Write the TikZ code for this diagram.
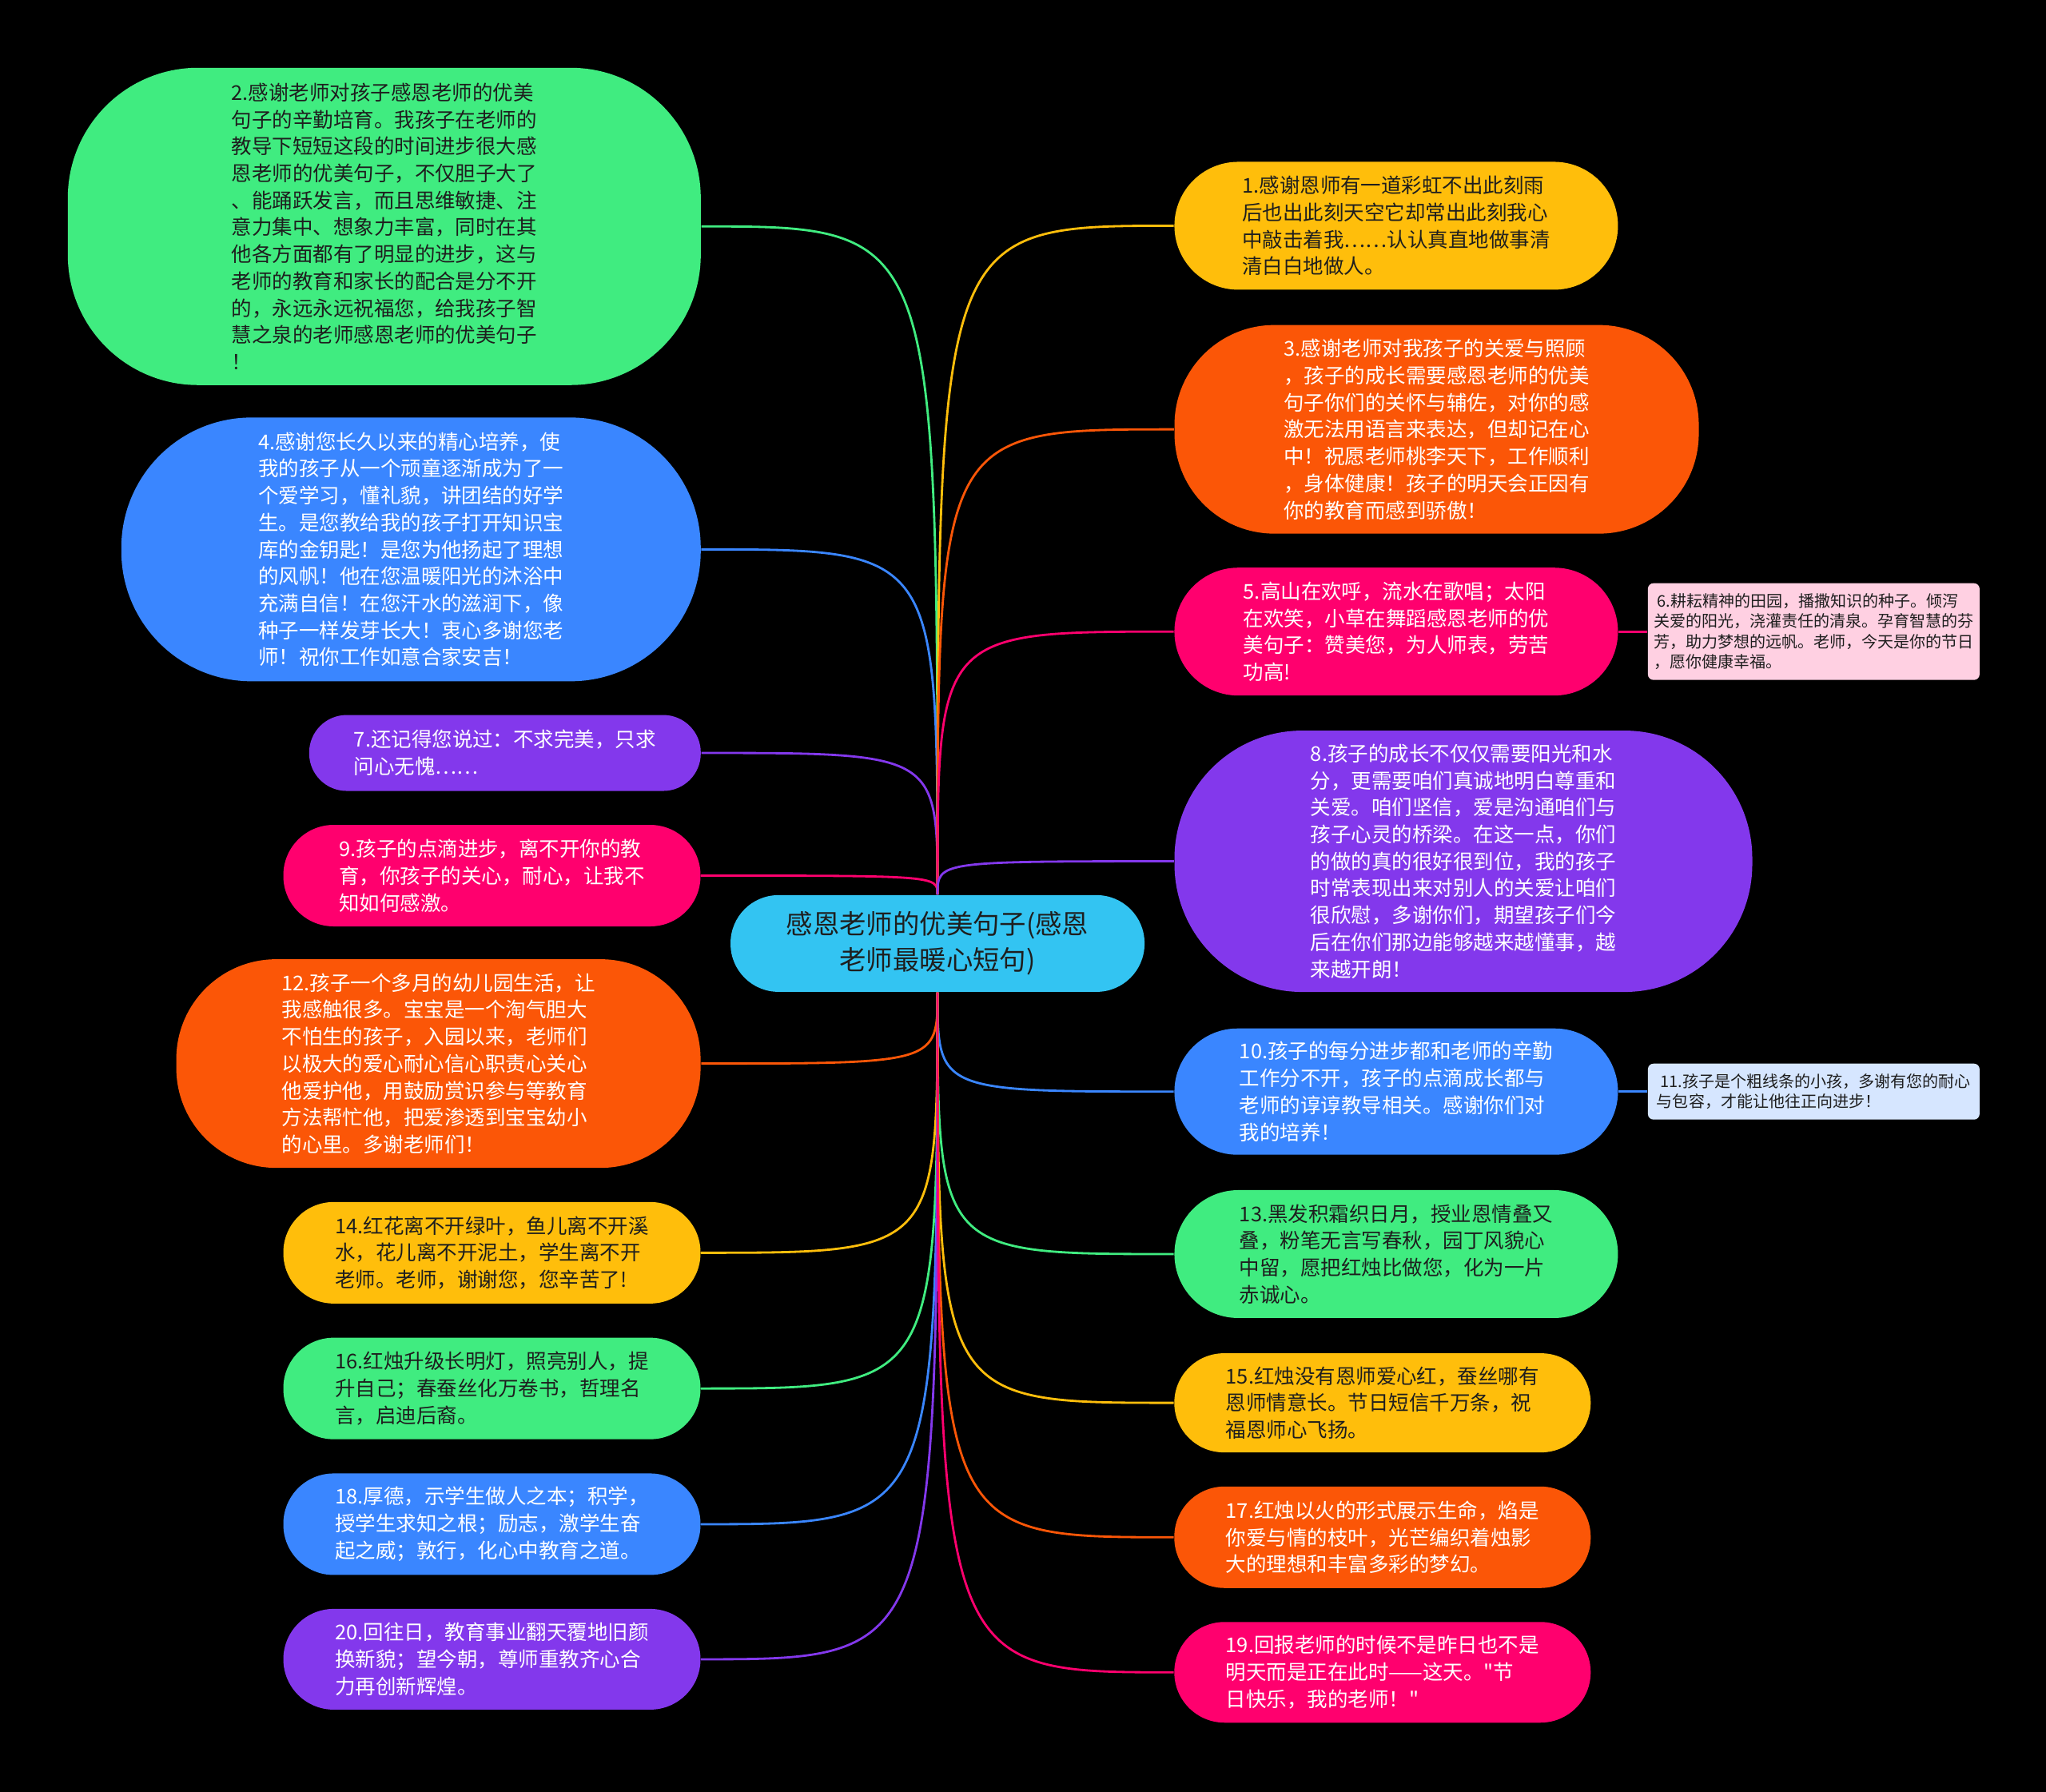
\documentclass[tikz,border=0pt]{standalone}
\usepackage{fontspec}
\setmainfont{Noto Sans CJK SC}[Ligatures=TeXOff]
\usetikzlibrary{calc}

\definecolor{bgblack}{HTML}{000000}
\definecolor{cgreen}{HTML}{40EC80}
\definecolor{cblue}{HTML}{3A86FF}
\definecolor{cpurple}{HTML}{8338EC}
\definecolor{cmagenta}{HTML}{FF006E}
\definecolor{corange}{HTML}{FB5607}
\definecolor{cyellow}{HTML}{FFBE0B}
\definecolor{croot}{HTML}{33C4F2}
\definecolor{cpinkbox}{HTML}{FFD0E2}
\definecolor{cbluebox}{HTML}{D6E6FF}
\definecolor{textdark}{HTML}{1E1E1E}

\newcommand{\leaffont}{\fontsize{7.25}{9.6}\selectfont}
\newcommand{\notefont}{\fontsize{5.7}{7.2}\selectfont}
\newcommand{\rootfont}{\fontsize{9.5}{12.9}\selectfont}

\tikzset{
  leaf/.style={rounded corners=#1, inner sep=0pt, align=left, font=\leaffont, text=white},
  dark/.style={text=textdark},
  note/.style={rounded corners=0.07cm, inner sep=0pt, align=left, font=\notefont, text=textdark},
  branch/.style={draw=#1, line width=0.8pt,
    to path={.. controls (\tikztostart|-\tikztotarget) .. (\tikztotarget)}},
}

\begin{document}
\begin{tikzpicture}[x=0.016327cm, y=-0.016327cm]
  \fill[bgblack] (0,0) rectangle (1568,1373);
  \useasboundingbox (0,0) rectangle (1568,1373);

  % centre
  \node[rounded corners=0.6cm, fill=croot, text=textdark, font=\rootfont, align=center,
        minimum width=5.18cm, minimum height=1.21cm, inner sep=0pt] (root) at (718.5,723)
    {感恩老师的优美句子(感恩\\老师最暖心短句)};

  % left side
  \node[leaf=1.63cm, fill=cgreen, dark, minimum width=7.92cm, minimum height=3.97cm] (n2) at (294.5,173.5)
    {2.感谢老师对孩子感恩老师的优美\\句子的辛勤培育。我孩子在老师的\\教导下短短这段的时间进步很大感\\恩老师的优美句子，不仅胆子大了\\、能踊跃发言，而且思维敏捷、注\\意力集中、想象力丰富，同时在其\\他各方面都有了明显的进步，这与\\老师的教育和家长的配合是分不开\\的，永远永远祝福您，给我孩子智\\慧之泉的老师感恩老师的优美句子\\！};
  \node[leaf=1.63cm, fill=cblue, minimum width=7.25cm, minimum height=3.30cm] (n4) at (315,421)
    {4.感谢您长久以来的精心培养，使\\我的孩子从一个顽童逐渐成为了一\\个爱学习，懂礼貌，讲团结的好学\\生。是您教给我的孩子打开知识宝\\库的金钥匙！是您为他扬起了理想\\的风帆！他在您温暖阳光的沐浴中\\充满自信！在您汗水的滋润下，像\\种子一样发芽长大！衷心多谢您老\\师！祝你工作如意合家安吉！};
  \node[leaf=0.47cm, fill=cpurple, minimum width=4.90cm, minimum height=0.95cm] (n7) at (387,577)
    {7.还记得您说过：不求完美，只求\\问心无愧……};
  \node[leaf=0.63cm, fill=cmagenta, minimum width=5.22cm, minimum height=1.27cm] (n9) at (377,671)
    {9.孩子的点滴进步，离不开你的教\\育，你孩子的关心，耐心，让我不\\知如何感激。};
  \node[leaf=1.25cm, fill=corange, minimum width=6.56cm, minimum height=2.61cm] (n12) at (336,815)
    {12.孩子一个多月的幼儿园生活，让\\我感触很多。宝宝是一个淘气胆大\\不怕生的孩子，入园以来，老师们\\以极大的爱心耐心信心职责心关心\\他爱护他，用鼓励赏识参与等教育\\方法帮忙他，把爱渗透到宝宝幼小\\的心里。多谢老师们！};
  \node[leaf=0.63cm, fill=cyellow, dark, minimum width=5.22cm, minimum height=1.27cm] (n14) at (377,960)
    {14.红花离不开绿叶，鱼儿离不开溪\\水，花儿离不开泥土，学生离不开\\老师。老师，谢谢您，您辛苦了!};
  \node[leaf=0.63cm, fill=cgreen, dark, minimum width=5.22cm, minimum height=1.27cm] (n16) at (377,1064)
    {16.红烛升级长明灯，照亮别人，提\\升自己；春蚕丝化万卷书，哲理名\\言，启迪后裔。};
  \node[leaf=0.63cm, fill=cblue, minimum width=5.22cm, minimum height=1.27cm] (n18) at (377,1168)
    {18.厚德，示学生做人之本；积学，\\授学生求知之根；励志，激学生奋\\起之威；敦行，化心中教育之道。};
  \node[leaf=0.63cm, fill=cpurple, minimum width=5.22cm, minimum height=1.26cm] (n20) at (377,1271.5)
    {20.回往日，教育事业翻天覆地旧颜\\换新貌；望今朝，尊师重教齐心合\\力再创新辉煌。};

  % right side
  \node[leaf=0.8cm, fill=cyellow, dark, minimum width=5.55cm, minimum height=1.60cm] (n1) at (1070,173)
    {1.感谢恩师有一道彩虹不出此刻雨\\后也出此刻天空它却常出此刻我心\\中敲击着我……认认真直地做事清\\清白白地做人。};
  \node[leaf=1.25cm, fill=corange, minimum width=6.56cm, minimum height=2.61cm] (n3) at (1101,329)
    {3.感谢老师对我孩子的关爱与照顾\\，孩子的成长需要感恩老师的优美\\句子你们的关怀与辅佐，对你的感\\激无法用语言来表达，但却记在心\\中！祝愿老师桃李天下，工作顺利\\，身体健康！孩子的明天会正因有\\你的教育而感到骄傲！};
  \node[leaf=0.8cm, fill=cmagenta, minimum width=5.55cm, minimum height=1.60cm] (n5) at (1070,484)
    {5.高山在欢呼，流水在歌唱；太阳\\在欢笑，小草在舞蹈感恩老师的优\\美句子：赞美您，为人师表，劳苦\\功高!};
  \node[note, fill=cpinkbox, minimum width=4.15cm, minimum height=1.21cm] (n6) at (1390,484)
    {\ 6.耕耘精神的田园，播撒知识的种子。倾泻\\关爱的阳光，浇灌责任的清泉。孕育智慧的芬\\芳，助力梦想的远帆。老师，今天是你的节日\\，愿你健康幸福。};
  \node[leaf=1.6cm, fill=cpurple, minimum width=7.23cm, minimum height=3.27cm] (n8) at (1121.5,660)
    {8.孩子的成长不仅仅需要阳光和水\\分，更需要咱们真诚地明白尊重和\\关爱。咱们坚信，爱是沟通咱们与\\孩子心灵的桥梁。在这一点，你们\\的做的真的很好很到位，我的孩子\\时常表现出来对别人的关爱让咱们\\很欣慰，多谢你们，期望孩子们今\\后在你们那边能够越来越懂事，越\\来越开朗！};
  \node[leaf=0.79cm, fill=cblue, minimum width=5.55cm, minimum height=1.58cm] (n10) at (1070,836.5)
    {10.孩子的每分进步都和老师的辛勤\\工作分不开，孩子的点滴成长都与\\老师的谆谆教导相关。感谢你们对\\我的培养！};
  \node[note, fill=cbluebox, minimum width=4.15cm, minimum height=0.70cm] (n11) at (1390,836.5)
    {\ 11.孩子是个粗线条的小孩，多谢有您的耐心\\与包容，才能让他往正向进步！};
  \node[leaf=0.8cm, fill=cgreen, dark, minimum width=5.55cm, minimum height=1.60cm] (n13) at (1070,961)
    {13.黑发积霜织日月，授业恩情叠又\\叠，粉笔无言写春秋，园丁风貌心\\中留，愿把红烛比做您，化为一片\\赤诚心。};
  \node[leaf=0.62cm, fill=cyellow, dark, minimum width=5.21cm, minimum height=1.24cm] (n15) at (1059.5,1075)
    {15.红烛没有恩师爱心红，蚕丝哪有\\恩师情意长。节日短信千万条，祝\\福恩师心飞扬。};
  \node[leaf=0.63cm, fill=corange, minimum width=5.21cm, minimum height=1.27cm] (n17) at (1059.5,1178)
    {17.红烛以火的形式展示生命，焰是\\你爱与情的枝叶，光芒编织着烛影\\大的理想和丰富多彩的梦幻。};
  \node[leaf=0.63cm, fill=cmagenta, minimum width=5.21cm, minimum height=1.26cm] (n19) at (1059.5,1281.5)
    {19.回报老师的时候不是昨日也不是\\明天而是正在此时——这天。"节\\日快乐，我的老师！"};

  % branches
  \draw[branch=cgreen] (root.north) to (n2.east);
  \draw[branch=cblue] (root.north) to (n4.east);
  \draw[branch=cpurple] (root.north) to (n7.east);
  \draw[branch=cmagenta] (root.north) to (n9.east);
  \draw[branch=corange] (root.south) to (n12.east);
  \draw[branch=cyellow] (root.south) to (n14.east);
  \draw[branch=cgreen] (root.south) to (n16.east);
  \draw[branch=cblue] (root.south) to (n18.east);
  \draw[branch=cpurple] (root.south) to (n20.east);
  \draw[branch=cyellow] (root.north) to (n1.west);
  \draw[branch=corange] (root.north) to (n3.west);
  \draw[branch=cmagenta] (root.north) to (n5.west);
  \draw[branch=cpurple] (root.north) to (n8.west);
  \draw[branch=cblue] (root.south) to (n10.west);
  \draw[branch=cgreen] (root.south) to (n13.west);
  \draw[branch=cyellow] (root.south) to (n15.west);
  \draw[branch=corange] (root.south) to (n17.west);
  \draw[branch=cmagenta] (root.south) to (n19.west);
  \draw[cmagenta, line width=0.8pt] (n5.east) -- (n6.west);
  \draw[cblue, line width=0.8pt] (n10.east) -- (n11.west);
\end{tikzpicture}
\end{document}
